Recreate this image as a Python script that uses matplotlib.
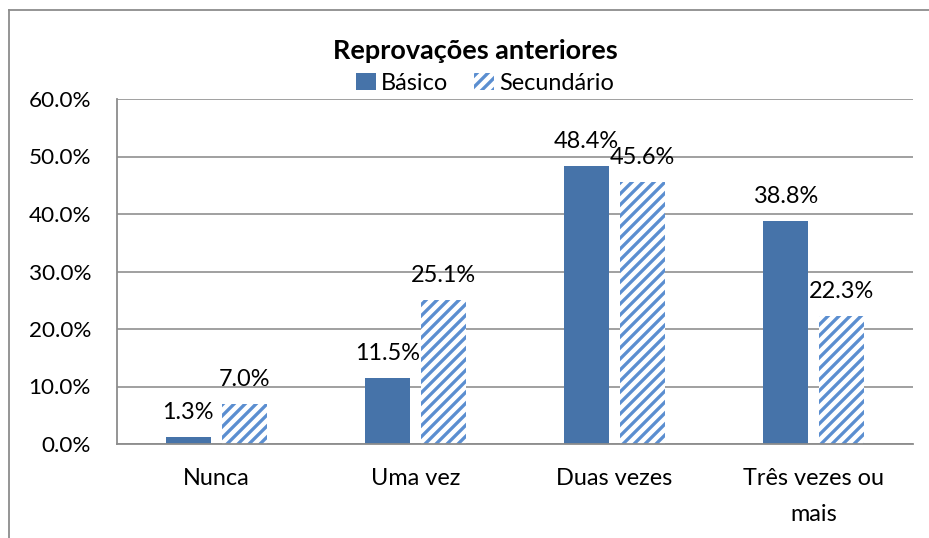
import matplotlib
matplotlib.use("Agg")
import matplotlib.pyplot as plt
from matplotlib.lines import Line2D
from matplotlib.patches import Patch
import numpy as np

categories = ["Nunca", "Uma vez", "Duas vezes", "Três vezes ou\nmais"]
basico = [1.3, 11.5, 48.4, 38.8]
secundario = [7.0, 25.1, 45.6, 22.3]
series_names = ["Básico", "Secundário"]
yticks = [0, 10, 20, 30, 40, 50, 60]
title = "Reprovações anteriores"

DPI = 66
W, H = 929, 538
PT = 72.0 / DPI  # points per pixel

plt.rcParams['font.family'] = ['Lato', 'DejaVu Sans']
plt.rcParams['hatch.linewidth'] = 3.6

c_bas = "#4673A9"
c_sec = "#5B8ED0"
grid_c = "#8C8C8C"
FS = 23.5

fig = plt.figure(figsize=(W / DPI, H / DPI), dpi=DPI)
ax = fig.add_axes([117 / W, 1 - 444 / H, (913 - 117) / W, (444 - 99) / H])

x = np.arange(len(categories))
bw = 0.226
off = 0.142
b1 = ax.bar(x - off, basico, width=bw, color=c_bas, linewidth=0)
b2 = ax.bar(x + off, secundario, width=bw, color="white", edgecolor=c_sec,
            hatch="//", linewidth=0)

ax.set_xlim(-0.5, len(categories) - 0.5)
ax.set_ylim(0, 60)
ax.set_yticks(yticks)
ax.set_yticklabels([f"{v:.1f}%" for v in yticks])
ax.set_xticks(x)
ax.set_xticklabels(categories, linespacing=1.9)
ax.tick_params(axis='both', length=0, labelsize=FS * PT, colors="black")
ax.tick_params(axis='y', labelsize=22.5 * PT, pad=26 * PT)
ax.tick_params(axis='x', pad=24 * PT)
ax.yaxis.grid(True, color=grid_c, linewidth=1.6 * PT)
ax.set_axisbelow(True)
for s in ["top", "right"]:
    ax.spines[s].set_visible(False)
for s in ["left", "bottom"]:
    ax.spines[s].set_color(grid_c)
    ax.spines[s].set_linewidth(1.8 * PT)

for bars, vals in [(b1, basico), (b2, secundario)]:
    for r, v in zip(bars, vals):
        ax.annotate(f"{v:.1f}%", (r.get_x() + r.get_width() / 2, r.get_height()),
                    xytext=(0, 14 * PT), textcoords="offset points",
                    ha="center", va="bottom", fontsize=FS * PT)

fig.text(475 / W, 1 - 51 / H, title, ha="center", va="center",
         fontsize=27 * PT, fontweight="bold")

handles = [Patch(facecolor=c_bas, linewidth=0),
           Patch(facecolor="white", edgecolor=c_sec, hatch="//", linewidth=0)]
fig.legend(handles, series_names, loc="center", bbox_to_anchor=(485 / W, 1 - 83 / H),
           ncol=2, frameon=False, fontsize=FS * PT, handlelength=0.85,
           handleheight=0.7, handletextpad=0.2, columnspacing=1.1,
           borderpad=0, borderaxespad=0)

fig.add_artist(Line2D([9 / W, 9 / W], [0, 1 - 10 / H], transform=fig.transFigure,
                      color=grid_c, linewidth=1.8 * PT))
fig.add_artist(Line2D([9 / W, 1], [1 - 10 / H, 1 - 10 / H], transform=fig.transFigure,
                      color=grid_c, linewidth=1.8 * PT))

fig.savefig("out.png", dpi=DPI)
